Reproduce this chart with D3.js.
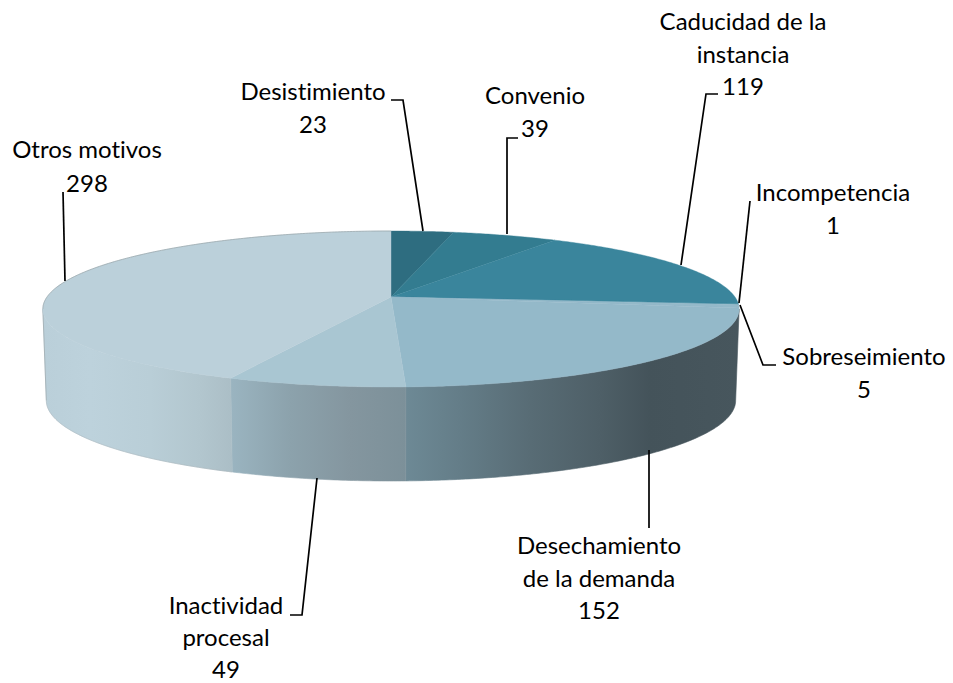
<!DOCTYPE html>
<html><head><meta charset="utf-8">
<script src="https://cdn.jsdelivr.net/npm/d3@7/dist/d3.min.js"></script>
<style>html,body{margin:0;padding:0;background:#fff}svg{display:block}text{font-variant-ligatures:none}</style>
</head><body><svg id="c" width="953" height="683"></svg>
<script>
const categories = ["Desistimiento","Convenio","Caducidad de la instancia","Incompetencia","Sobreseimiento","Desechamiento de la demanda","Inactividad procesal","Otros motivos"];
const values = [23,39,119,1,5,152,49,298];
const topColors = ["#2e6d80","#337c90","#3a859c","#3a859c","#94b9c9","#94b9c9","#a9c6d2","#bbd0da"];

const labelLines = [["Desistimiento"],["Convenio"],["Caducidad de la","instancia"],["Incompetencia"],["Sobreseimiento"],["Desechamiento","de la demanda"],["Inactividad","procesal"],["Otros motivos"]];
const labelX = [313,535,743,833,864,599,226,87];
const labelY = [100,104,30,201,365,554,614,158];
const labelStep = [33,33,32.5,33,33,32.5,32,34];
const leaders = [
 [[391,100],[403,100],[423,231]],
 [[518,138],[507,138],[507,234]],
 [[718,94],[706,94],[681,265]],
 [[750,201],[739,303]],
 [[776,365],[763,365],[740,305]],
 [[649,450],[649,528]],
 [[290,615],[302,615],[317,478]],
 [[63,192],[65,281]]
];
const wallStops = [
 {from:98.85,to:177.9,stops:[[407,"#6d8995"],[460,"#647d88"],[530,"#586c75"],[600,"#4e5f67"],[650,"#44535a"],[739,"#47565d"]]},
 {from:177.9,to:203.6,stops:[[232,"#9ab4c0"],[290,"#8ca2ac"],[350,"#84969f"],[407,"#7c9099"]]},
 {from:203.6,to:261.15,stops:[[43,"#bacfd9"],[90,"#bdd2dc"],[150,"#b9ced7"],[200,"#b2c6ce"],[232,"#abbec6"]]}
];

const cx = 391, cy = 297, A = 344, B = 76.15, k = 0.1538;
const svg = d3.select("#c");
const defs = svg.append("defs");
const px = d3.scaleLinear().domain([-1,1]).range([cx-A,cx+A]);
const py = d3.scaleLinear().domain([-1,1]).range([cy-B,cy+B]);
function proj(theta, bottom){
  const u = Math.sin(theta), v = -Math.cos(theta), w = 1/(1-k*v);
  const X = px(u*w), Y = py(v*w);
  if(!bottom) return [X,Y];
  return [cx+(X-cx)*0.99, Y+91+3*v];
}
const rad = d=>d*Math.PI/180;
const line = d3.line();
const arcPts = (a,b,bottom)=>{const n=Math.max(2,Math.ceil(Math.abs(b-a)/0.01));return d3.range(n+1).map(i=>proj(a+(b-a)*i/n,bottom));};

wallStops.forEach((w,i)=>{
  const g = defs.append("linearGradient").attr("id","w"+i).attr("gradientUnits","userSpaceOnUse")
    .attr("x1",w.stops[0][0]).attr("x2",w.stops[w.stops.length-1][0]).attr("y1",0).attr("y2",0);
  const x0=w.stops[0][0],x1=w.stops[w.stops.length-1][0];
  w.stops.forEach(s=>g.append("stop").attr("offset",(s[0]-x0)/(x1-x0)).attr("stop-color",s[1]));
  const a=rad(w.from),b=rad(w.to);
  const pts=arcPts(a,b,false).concat(arcPts(b,a,true));
  svg.append("path").attr("d",line(pts)+"Z").attr("fill",`url(#w${i})`).attr("stroke",`url(#w${i})`).attr("stroke-width",0.6);
});
svg.append("path").attr("d",line(arcPts(rad(203.6),rad(261.15),true))).attr("fill","none").attr("stroke","#a3aeb2").attr("stroke-width",0.7).attr("opacity",0.6);
svg.append("path").attr("d",line([proj(rad(261.15),false),proj(rad(261.15),true)])).attr("fill","none").attr("stroke","#9aa5a9").attr("stroke-width",1).attr("opacity",0.7);

const pie = d3.pie().sort(null).startAngle(0).endAngle(2*Math.PI);
const arcs = pie(values);
svg.append("g").selectAll("path").data(arcs).join("path")
  .attr("d",d=>line([[cx,cy]].concat(arcPts(d.startAngle,d.endAngle,false)))+"Z")
  .attr("fill",(d,i)=>topColors[i]).attr("stroke",(d,i)=>topColors[i]).attr("stroke-width",0.4);
svg.append("path").attr("d",line(arcPts(rad(261.15),rad(360),false))).attr("fill","none").attr("stroke","#98a4a8").attr("stroke-width",0.9).attr("opacity",0.8);

const lg = svg.append("g");
leaders.forEach(l=>lg.append("path").attr("d",line(l)).attr("fill","none").attr("stroke","#000").attr("stroke-width",1.7));

const tg = svg.append("g").attr("font-family","Lato, 'Open Sans', sans-serif").attr("font-size",24).attr("fill","#000").attr("text-anchor","middle");
categories.forEach((c,i)=>{
  const lines = labelLines[i].concat([String(values[i])]);
  lines.forEach((t,j)=>tg.append("text").attr("x",labelX[i]).attr("y",labelY[i]+j*labelStep[i]).text(t));
});
</script></body></html>
